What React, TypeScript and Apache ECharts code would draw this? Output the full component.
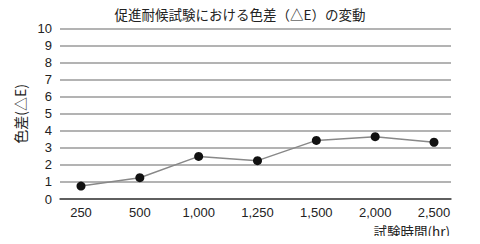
import React, { useEffect, useRef } from "react";
import * as echarts from "echarts";

const categories = ["250", "500", "1,000", "1,250", "1,500", "2,000", "2,500"];
const deltaE = [0.76, 1.25, 2.5, 2.25, 3.44, 3.66, 3.33];
const titleText = "促進耐候試験における色差（△E）の変動";
const yName = "色差(△E)";
const xName = "試験時間(hr)";

const FONT = "'Noto Sans CJK JP', 'Noto Sans', sans-serif";
const NUMFONT = "'Liberation Sans', Arial, sans-serif";

export default function App() {
  const ref = useRef<HTMLDivElement>(null);
  useEffect(() => {
    if (!ref.current) return;
    const chart = echarts.init(ref.current, null, { renderer: "svg" });
    chart.setOption({
      animation: false,
      backgroundColor: "#ffffff",
      textStyle: { fontFamily: FONT },
      title: [
        {
          text: titleText,
          left: "center",
          top: 2,
          textStyle: { fontSize: 13.5, fontWeight: "normal", color: "#222", fontFamily: FONT },
        },
        {
          text: xName,
          right: 30,
          top: 224,
          padding: 0,
          textStyle: { fontSize: 13.5, fontWeight: "normal", color: "#222", fontFamily: FONT },
        },
      ],
      grid: [
        { left: 60, right: 29, top: 28.6, bottom: 45, outerBoundsMode: "none", containLabel: false },
        { left: 81, right: 46, top: 28.6, bottom: 45, outerBoundsMode: "none", containLabel: false },
      ],
      xAxis: [
        {
          gridIndex: 0,
          type: "category",
          data: categories,
          axisLine: { show: true, lineStyle: { color: "#444", width: 1.5 } },
          axisTick: { show: false },
          axisLabel: { show: false },
          splitLine: { show: false },
        },
        {
          gridIndex: 1,
          type: "category",
          data: categories,
          boundaryGap: false,
          axisLine: { show: false },
          axisTick: { show: false },
          axisLabel: { show: true, color: "#222", fontSize: 13, margin: 7, fontFamily: NUMFONT },
        },
      ],
      yAxis: [
        {
          gridIndex: 0,
          type: "value",
          min: 0,
          max: 10,
          interval: 1,
          axisLine: { show: false },
          axisTick: { show: false },
          axisLabel: { color: "#222", fontSize: 13, margin: 8, fontFamily: NUMFONT },
          splitLine: { show: true, lineStyle: { color: "#b3b3b3", width: 2 } },
          name: yName,
          nameLocation: "middle",
          nameGap: 27,
          nameRotate: 90,
          nameTextStyle: { color: "#222", fontSize: 14, fontFamily: FONT },
        },
        {
          gridIndex: 1,
          type: "value",
          min: 0,
          max: 10,
          show: false,
          splitLine: { show: false },
        },
      ],
      series: [
        {
          type: "line",
          xAxisIndex: 1,
          yAxisIndex: 1,
          data: deltaE,
          symbol: "circle",
          symbolSize: 9,
          lineStyle: { color: "#888", width: 1.5 },
          itemStyle: { color: "#111" },
          z: 5,
        },
      ],
    });
    return () => chart.dispose();
  }, []);
  return <div ref={ref} style={{ width: 480, height: 244, margin: -8 }} />;
}
